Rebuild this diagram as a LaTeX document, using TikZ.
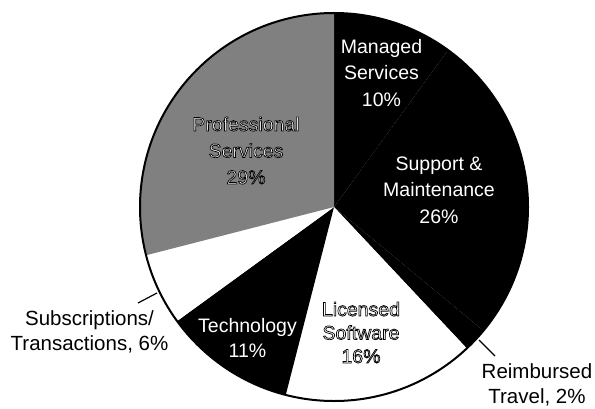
\documentclass[tikz,border=0pt]{standalone}
\usepackage{fontspec}
\setmainfont{Liberation Sans}
\newcommand{\hollow}[1]{\special{pdf:literal 2 Tr 0.7 w 0 G}#1\special{pdf:literal 0 Tr}}
\tikzset{
  slice/.style={fill=#1},
  inlbl/.style={align=center,anchor=base,text=white,font=\fontsize{19.5bp}{26.5bp}\selectfont},
  outlbl/.style={align=center,anchor=base,text=black,font=\fontsize{20.5bp}{25bp}\selectfont}
}
\begin{document}
\begin{tikzpicture}[x=1bp,y=1bp]
\useasboundingbox (0,0) rectangle (595,408);
\coordinate (c) at (334,201);
% slices, clockwise from the top
\fill[slice=black] (c) -- ++(90:194) arc[start angle=90,end angle=54,radius=194] -- cycle;
\fill[slice=black] (c) -- ++(54:194) arc[start angle=54,end angle=-39.6,radius=194] -- cycle;
\fill[slice=black] (c) -- ++(-39.6:194) arc[start angle=-39.6,end angle=-46.8,radius=194] -- cycle;
\fill[slice=white] (c) -- ++(-46.8:194) arc[start angle=-46.8,end angle=-104.4,radius=194] -- cycle;
\fill[slice=black] (c) -- ++(-104.4:194) arc[start angle=-104.4,end angle=-144,radius=194] -- cycle;
\fill[slice=white] (c) -- ++(-144:194) arc[start angle=-144,end angle=-165.6,radius=194] -- cycle;
\fill[slice=black!50] (c) -- ++(-165.6:194) arc[start angle=-165.6,end angle=-270,radius=194] -- cycle;
\draw[line width=2bp] (c) circle[radius=194];
% labels (anchored at the baseline of the last line)
\node at (381.5,302) [inlbl] (managed) {Managed\\Services\\10\%};
\node at (439,185) [inlbl] (support) {Support \&\\Maintenance\\26\%};
\node at (246,224) [inlbl] (prof) {\hollow{Professional}\\\hollow{Services}\\\hollow{29\%}};
\node at (361,45) [inlbl,font=\fontsize{19.5bp}{23.5bp}\selectfont] (licensed) {\hollow{Licensed}\\\hollow{Software}\\\hollow{16\%}};
\node at (247.5,51) [inlbl,font=\fontsize{19.5bp}{25bp}\selectfont] (tech) {Technology\\11\%};
\node at (89.5,58) [outlbl] (subs) {Subscriptions/\\Transactions, 6\%};
\node at (537,5) [outlbl] (reimb) {Reimbursed\\Travel, 2\%};
% leader lines
\coordinate (subsA) at (138,105);
\coordinate (subsB) at (157,115);
\coordinate (reimbA) at (495,52);
\coordinate (reimbB) at (479,68);
\draw[line width=1.2bp] (subsA) -- (subsB);
\draw[line width=1.2bp] (reimbA) -- (reimbB);
\end{tikzpicture}
\end{document}
